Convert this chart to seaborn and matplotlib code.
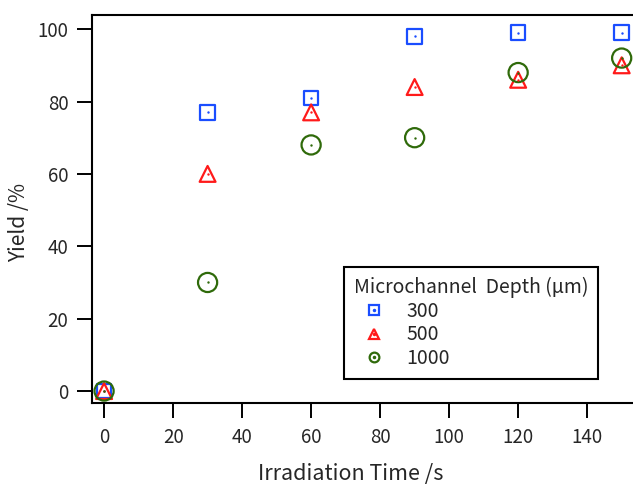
import numpy as np
import pandas as pd
import matplotlib
matplotlib.use("Agg")
import matplotlib.pyplot as plt
import seaborn as sns
from matplotlib.lines import Line2D

time_s = [0, 30, 60, 90, 120, 150]
yield_300 = [0, 77, 81, 98, 99, 99]
yield_500 = [0, 60, 77, 84, 86, 90]
yield_1000 = [0, 30, 68, 70, 88, 92]
depth_labels = ["300", "500", "1000"]
x_ticks = [0, 20, 40, 60, 80, 100, 120, 140]
y_ticks = [0, 20, 40, 60, 80, 100]

sns.set_style("ticks")
plt.rcParams['font.family'] = ['Noto Sans CJK JP', 'DejaVu Sans']

colors = ["#1a4dff", "#ff1a1a", "#2f6a0a"]
markers = ["s", "^", "o"]
sizes = [110, 130, 190]

fig = plt.figure(figsize=(6.33, 4.84), dpi=100)
ax_left, ax_right = 92/633, 1.005
ax = fig.add_axes([ax_left, 1-403/484, ax_right-ax_left, (403-15)/484])

series = [yield_300, yield_500, yield_1000]
for vals, c, m, s in zip(series, colors, markers, sizes):
    df = pd.DataFrame({"t": time_s, "y": vals})
    sns.scatterplot(data=df, x="t", y="y", ax=ax, marker=m, s=s,
                    facecolor="none", edgecolor=c, linewidth=1.6, zorder=3)
    sns.scatterplot(data=df, x="t", y="y", ax=ax, marker="o", s=3,
                    facecolor=c, edgecolor=c, linewidth=0, zorder=4)

ax.set_xlim(-3.5, 154.2)
ax.set_ylim(-3.3, 103.9)
ax.set_xticks(x_ticks)
ax.set_yticks(y_ticks)
ax.tick_params(axis="both", direction="out", length=11, width=1.4,
               labelsize=13.5, color="black", pad=6)
for sp in ax.spines.values():
    sp.set_linewidth(1.5)
    sp.set_color("black")
ax.set_xlabel("Irradiation Time /s", fontsize=15.5)
ax.set_ylabel("Yield /%", fontsize=15)
axw = (ax_right - ax_left) * 633
ax.xaxis.set_label_coords((351 - 92) / axw, -(474 - 403) / 388, transform=ax.transAxes)
ax.xaxis.label.set_va("center")
ax.yaxis.set_label_coords(-(92 - 19) / axw, (403 - 222) / 388, transform=ax.transAxes)
ax.yaxis.label.set_va("center")

handles = []
for c, m in zip(colors, markers):
    h1 = Line2D([], [], marker=m, linestyle="none", markersize=7,
                markerfacecolor="none", markeredgecolor=c, markeredgewidth=1.6)
    h2 = Line2D([], [], marker="o", linestyle="none", markersize=1.5,
                markerfacecolor=c, markeredgecolor=c)
    handles.append((h1, h2))

leg = ax.legend(handles, depth_labels, title="Microchannel  Depth (μm)",
                loc="upper left", bbox_to_anchor=(344/633, 1-267/484),
                bbox_transform=fig.transFigure, borderaxespad=0,
                fontsize=14, title_fontsize=14, frameon=True,
                fancybox=False, edgecolor="black", framealpha=1,
                handlelength=2.1, handletextpad=0.6, labelspacing=0.14,
                borderpad=0.5)
leg.get_frame().set_linewidth(1.5)
leg._legend_box.align = "left"

fig.savefig("out.png", dpi=100)
